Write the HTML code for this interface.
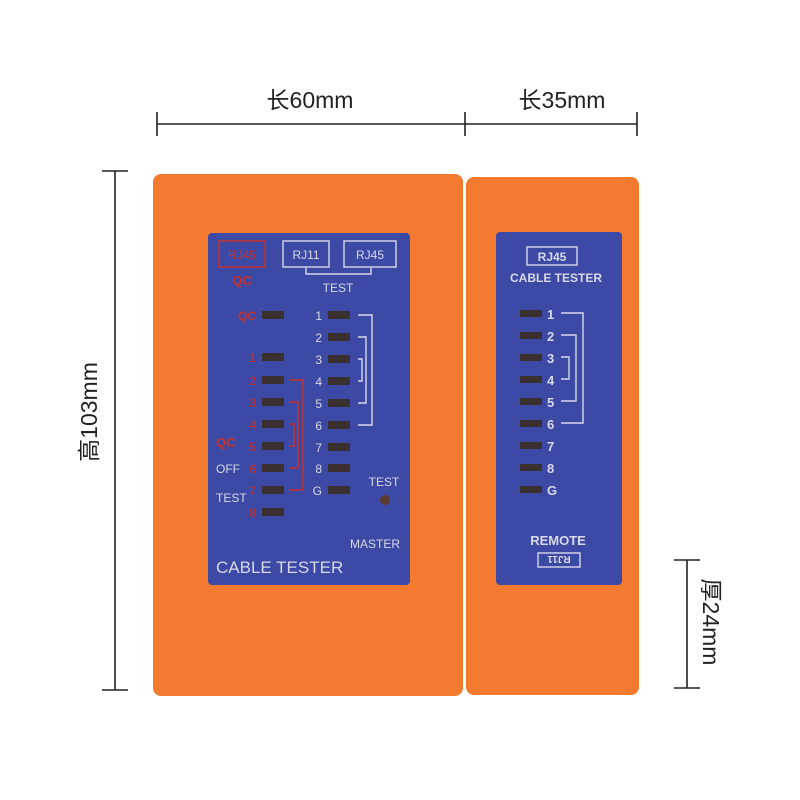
<!DOCTYPE html>
<html><head><meta charset="utf-8"><style>
body{margin:0;background:#fff}
svg{display:block}
text{font-family:"Liberation Sans","Noto Sans CJK SC",sans-serif}
</style></head><body>
<svg width="800" height="800" viewBox="0 0 800 800" xmlns="http://www.w3.org/2000/svg">
<g stroke="#222" stroke-width="1.6" fill="none">
<line x1="157" y1="124" x2="637" y2="124"/>
<line x1="157" y1="112" x2="157" y2="136"/>
<line x1="465" y1="112" x2="465" y2="136"/>
<line x1="637" y1="112" x2="637" y2="136"/>
<line x1="115" y1="171" x2="115" y2="690"/>
<line x1="102" y1="171" x2="128" y2="171"/>
<line x1="102" y1="690" x2="128" y2="690"/>
<line x1="687" y1="560" x2="687" y2="688"/>
<line x1="674" y1="560" x2="700" y2="560"/>
<line x1="674" y1="688" x2="700" y2="688"/>
</g>
<g fill="#222" font-size="23">
<text x="310" y="108" text-anchor="middle">长60mm</text>
<text x="562" y="108" text-anchor="middle">长35mm</text>
<text transform="translate(97,412) rotate(-90)" text-anchor="middle">高103mm</text>
<text transform="translate(703,622) rotate(90)" text-anchor="middle">厚24mm</text>
</g>
<rect x="153" y="174" width="310" height="522" rx="8" fill="#f47a30"/>
<rect x="466" y="177" width="173" height="518" rx="8" fill="#f47a30"/>
<rect x="208" y="233" width="202" height="352" rx="4" fill="#3c4aa6"/>
<rect x="496" y="232" width="126" height="353" rx="4" fill="#3c4aa6"/>
<g fill="none" stroke-width="1.4">
<rect x="219" y="241" width="46" height="26" stroke="#c8302a"/>
<rect x="283" y="241" width="46" height="26" stroke="#d8d8e8"/>
<rect x="344" y="241" width="52" height="26" stroke="#d8d8e8"/>
<polyline points="306,267 306,274 371,274 371,267" stroke="#d8d8e8"/>
<polyline points="358,315 372,315 372,425 358,425" stroke="#d8d8e8"/>
<polyline points="358,337 366,337 366,403 358,403" stroke="#d8d8e8"/>
<polyline points="358,359 362,359 362,381 358,381" stroke="#d8d8e8"/>
<polyline points="290,380 303,380 303,490 290,490" stroke="#c8302a"/>
<polyline points="290,402 298,402 298,468 290,468" stroke="#c8302a"/>
<polyline points="290,424 294,424 294,446 290,446" stroke="#c8302a"/>
</g>
<g font-size="12" fill="#d8d8e8">
<text x="242" y="259" text-anchor="middle" fill="#c8302a">RJ45</text>
<text x="242" y="285" text-anchor="middle" fill="#c8302a" font-size="13" font-weight="bold">QC</text>
<text x="306" y="259" text-anchor="middle">RJ11</text>
<text x="370" y="259" text-anchor="middle">RJ45</text>
<text x="338" y="292" text-anchor="middle">TEST</text>
<text x="256" y="320" text-anchor="end" fill="#c8302a" font-weight="bold">QC</text>
<text x="256" y="362" text-anchor="end" fill="#c8302a">1</text>
<text x="256" y="385" text-anchor="end" fill="#c8302a">2</text>
<text x="256" y="407" text-anchor="end" fill="#c8302a">3</text>
<text x="256" y="429" text-anchor="end" fill="#c8302a">4</text>
<text x="256" y="451" text-anchor="end" fill="#c8302a">5</text>
<text x="256" y="473" text-anchor="end" fill="#c8302a">6</text>
<text x="256" y="495" text-anchor="end" fill="#c8302a">7</text>
<text x="256" y="517" text-anchor="end" fill="#c8302a">8</text>
<text x="216" y="447" fill="#c8302a" font-size="13" font-weight="bold">QC</text>
<text x="216" y="473">OFF</text>
<text x="216" y="502">TEST</text>
<text x="322" y="320" text-anchor="end">1</text>
<text x="322" y="342" text-anchor="end">2</text>
<text x="322" y="364" text-anchor="end">3</text>
<text x="322" y="386" text-anchor="end">4</text>
<text x="322" y="408" text-anchor="end">5</text>
<text x="322" y="430" text-anchor="end">6</text>
<text x="322" y="452" text-anchor="end">7</text>
<text x="322" y="473" text-anchor="end">8</text>
<text x="322" y="495" text-anchor="end">G</text>
<text x="384" y="486" text-anchor="middle">TEST</text>
<text x="400" y="548" text-anchor="end">MASTER</text>
<text x="216" y="573" font-size="17">CABLE TESTER</text>
</g>
<circle cx="385" cy="500" r="5" fill="#5a3a30"/>
<g fill="#3a3030">
<rect x="262" y="311" width="22" height="8"/>
<rect x="262" y="353" width="22" height="8"/>
<rect x="262" y="376" width="22" height="8"/>
<rect x="262" y="398" width="22" height="8"/>
<rect x="262" y="420" width="22" height="8"/>
<rect x="262" y="442" width="22" height="8"/>
<rect x="262" y="464" width="22" height="8"/>
<rect x="262" y="486" width="22" height="8"/>
<rect x="262" y="508" width="22" height="8"/>
<rect x="328" y="311" width="22" height="8"/>
<rect x="328" y="333" width="22" height="8"/>
<rect x="328" y="355" width="22" height="8"/>
<rect x="328" y="377" width="22" height="8"/>
<rect x="328" y="399" width="22" height="8"/>
<rect x="328" y="421" width="22" height="8"/>
<rect x="328" y="443" width="22" height="8"/>
<rect x="328" y="464" width="22" height="8"/>
<rect x="328" y="486" width="22" height="8"/>
</g>
<g fill="none" stroke="#d8d8e8" stroke-width="1.4">
<rect x="527" y="247" width="50" height="18"/>
<polyline points="561,313 583,313 583,423 561,423"/>
<polyline points="561,335 576,335 576,401 561,401"/>
<polyline points="561,357 569,357 569,379 561,379"/>
<rect x="538" y="553" width="42" height="14"/>
</g>
<g fill="#3a3030">
<rect x="520" y="310" width="22" height="7"/>
<rect x="520" y="332" width="22" height="7"/>
<rect x="520" y="354" width="22" height="7"/>
<rect x="520" y="376" width="22" height="7"/>
<rect x="520" y="398" width="22" height="7"/>
<rect x="520" y="420" width="22" height="7"/>
<rect x="520" y="442" width="22" height="7"/>
<rect x="520" y="464" width="22" height="7"/>
<rect x="520" y="486" width="22" height="7"/>
</g>
<g font-size="13" fill="#d8d8e8" font-weight="bold">
<text x="552" y="261" text-anchor="middle" font-size="12">RJ45</text>
<text x="556" y="282" text-anchor="middle" font-size="12">CABLE TESTER</text>
<text x="547" y="319">1</text>
<text x="547" y="341">2</text>
<text x="547" y="363">3</text>
<text x="547" y="385">4</text>
<text x="547" y="407">5</text>
<text x="547" y="429">6</text>
<text x="547" y="451">7</text>
<text x="547" y="473">8</text>
<text x="547" y="495">G</text>
<text x="558" y="545" text-anchor="middle">REMOTE</text>
<text transform="translate(559,556) rotate(180)" text-anchor="middle" font-size="10">RJ11</text>
</g>
</svg>
</body></html>
